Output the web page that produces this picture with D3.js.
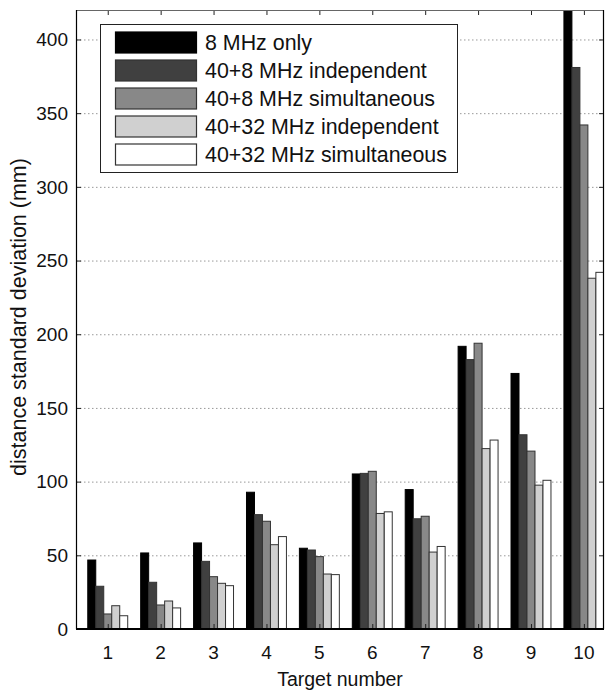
<!DOCTYPE html>
<html>
<head>
<meta charset="utf-8">
<script src="https://cdn.jsdelivr.net/npm/d3@7"></script>
<style>
  body { margin: 0; background: #fff; }
  svg { display: block; font-family: "Liberation Sans", Arial, sans-serif; }
</style>
</head>
<body>
<div id="chart"></div>
<script>
// target numbers on the x axis
var targets = [1, 2, 3, 4, 5, 6, 7, 8, 9, 10];

var seriesNames = [
    "8 MHz only",
    "40+8 MHz independent",
    "40+8 MHz simultaneous",
    "40+32 MHz independent",
    "40+32 MHz simultaneous"
];

// distance standard deviation (mm), one array per series
var only8 = [46.8, 51.6, 58.4, 92.8, 54.8, 105.2, 94.6, 191.8, 173.4, 450];
var indep40_8 = [29.0, 31.7, 45.9, 77.6, 53.6, 105.6, 74.8, 182.8, 131.8, 381];
var simul40_8 = [10.2, 16.3, 35.5, 73.1, 49.1, 107.0, 76.5, 193.9, 120.7, 342];
var indep40_32 = [15.8, 19.0, 31.0, 57.2, 37.3, 78.4, 52.2, 122.4, 97.6, 238];
var simul40_32 = [9.0, 14.3, 29.4, 62.7, 36.9, 79.5, 56.0, 128.2, 100.9, 242];

var yTicks = [0, 50, 100, 150, 200, 250, 300, 350, 400];

var drawChart = function () {
    var seriesValues = [only8, indep40_8, simul40_8, indep40_32, simul40_32];
    var fills = ["#000000", "#404040", "#888888", "#d0d0d0", "#ffffff"];

    var width = 606, height = 693;
    var plotL = 76, plotR = 604, plotT = 10, plotB = 629;

    var svg = d3.select('#chart')
        .append('svg')
        .attr('width', width)
        .attr('height', height);

    var x = d3.scaleLinear()
        .domain([0.4, 10.38])
        .range([plotL, plotR]);

    var y = d3.scaleLinear()
        .domain([0, 420])
        .range([plotB, plotT]);

    var barW = 0.151; // in x units

    svg.append('defs').append('clipPath')
        .attr('id', 'plotclip')
        .append('rect')
        .attr('x', plotL).attr('y', plotT)
        .attr('width', plotR - plotL).attr('height', plotB - plotT);

    // dotted grid
    svg.append('g')
        .selectAll('line')
        .data(yTicks.filter(function (d) { return d > 0; }))
        .enter().append('line')
        .attr('x1', plotL).attr('x2', plotR)
        .attr('y1', function (d) { return y(d) + 0.5; })
        .attr('y2', function (d) { return y(d) + 0.5; })
        .style('stroke', '#999')
        .style('stroke-width', 1)
        .style('stroke-dasharray', '1.5,2.5');

    // bars
    var bars = [];
    seriesValues.forEach(function (vals, s) {
        vals.forEach(function (v, i) {
            bars.push({ s: s, t: targets[i], v: v });
        });
    });

    svg.append('g')
        .attr('clip-path', 'url(#plotclip)')
        .selectAll('rect')
        .data(bars)
        .enter().append('rect')
        .attr('x', function (d) { return x(d.t + (d.s - 2.5) * barW); })
        .attr('width', function (d) { return x(d.t + barW) - x(d.t); })
        .attr('y', function (d) { return y(d.v); })
        .attr('height', function (d) { return y(0) - y(d.v); })
        .style('fill', function (d) { return fills[d.s]; })
        .style('stroke', function (d) { return d.s === 0 ? '#000' : '#333'; })
        .style('stroke-width', 1);

    // axes (ticks inside, box)
    var yAxisL = d3.axisRight(y).tickValues(yTicks).tickSize(5).tickFormat('');
    var yAxisR = d3.axisLeft(y).tickValues(yTicks).tickSize(5).tickFormat('');
    var xAxisB = d3.axisTop(x).tickValues(targets).tickSize(5).tickFormat('');
    var xAxisT = d3.axisBottom(x).tickValues(targets).tickSize(5).tickFormat('');

    var styleAxis = function (g) {
        g.select('.domain').remove();
        g.selectAll('line').style('stroke', '#222');
    };

    svg.append('g').attr('transform', 'translate(' + plotL + ',0)').call(yAxisL).call(styleAxis);
    svg.append('g').attr('transform', 'translate(' + plotR + ',0)').call(yAxisR).call(styleAxis);
    svg.append('g').attr('transform', 'translate(0,' + plotB + ')').call(xAxisB).call(styleAxis);
    svg.append('g').attr('transform', 'translate(0,' + plotT + ')').call(xAxisT).call(styleAxis);

    // frame
    svg.append('line').attr('x1', plotL).attr('x2', plotR).attr('y1', plotT + 0.5).attr('y2', plotT + 0.5)
        .style('stroke', '#666').style('stroke-width', 1);
    svg.append('line').attr('x1', plotL + 0.5).attr('x2', plotL + 0.5).attr('y1', plotT).attr('y2', plotB)
        .style('stroke', '#000').style('stroke-width', 1.2);
    svg.append('line').attr('x1', plotR - 0.5).attr('x2', plotR - 0.5).attr('y1', plotT).attr('y2', plotB)
        .style('stroke', '#000').style('stroke-width', 1.2);
    svg.append('line').attr('x1', plotL).attr('x2', plotR).attr('y1', plotB).attr('y2', plotB)
        .style('stroke', '#000').style('stroke-width', 2);

    // tick labels
    svg.append('g')
        .selectAll('text')
        .data(yTicks)
        .enter().append('text')
        .attr('x', 68)
        .attr('y', function (d) { return y(d); })
        .attr('dy', '0.36em')
        .attr('text-anchor', 'end')
        .attr('font-size', 19)
        .attr('fill', '#111')
        .text(function (d) { return d; });

    svg.append('g')
        .selectAll('text')
        .data(targets)
        .enter().append('text')
        .attr('x', function (d) { return x(d); })
        .attr('y', 659)
        .attr('text-anchor', 'middle')
        .attr('font-size', 19)
        .attr('fill', '#111')
        .text(function (d) { return d; });

    // axis titles
    svg.append('text')
        .attr('x', (plotL + plotR) / 2)
        .attr('y', 686)
        .attr('text-anchor', 'middle')
        .attr('font-size', 19.5)
        .attr('fill', '#111')
        .text('Target number');

    svg.append('text')
        .attr('transform', 'translate(26,317) rotate(-90)')
        .attr('text-anchor', 'middle')
        .attr('font-size', 21.5)
        .attr('fill', '#111')
        .text('distance standard deviation (mm)');

    // legend
    var legend = svg.append('g');
    legend.append('rect')
        .attr('x', 100.5).attr('y', 24.5)
        .attr('width', 357).attr('height', 148)
        .style('fill', '#fff')
        .style('stroke', '#222')
        .style('stroke-width', 1);

    var rows = legend.selectAll('g.row')
        .data(seriesNames)
        .enter().append('g')
        .attr('class', 'row')
        .attr('transform', function (d, i) { return 'translate(0,' + (31.5 + i * 28) + ')'; });

    rows.append('rect')
        .attr('x', 115.5).attr('y', 0.5)
        .attr('width', 81).attr('height', 21)
        .style('fill', function (d, i) { return fills[i]; })
        .style('stroke', function (d, i) { return i === 0 ? '#000' : '#333'; })
        .style('stroke-width', 1.2);

    rows.append('text')
        .attr('x', 205)
        .attr('y', 11)
        .attr('dy', '0.36em')
        .attr('font-size', 21.4)
        .attr('fill', '#111')
        .text(function (d) { return d; });
};

drawChart();
</script>
</body>
</html>
